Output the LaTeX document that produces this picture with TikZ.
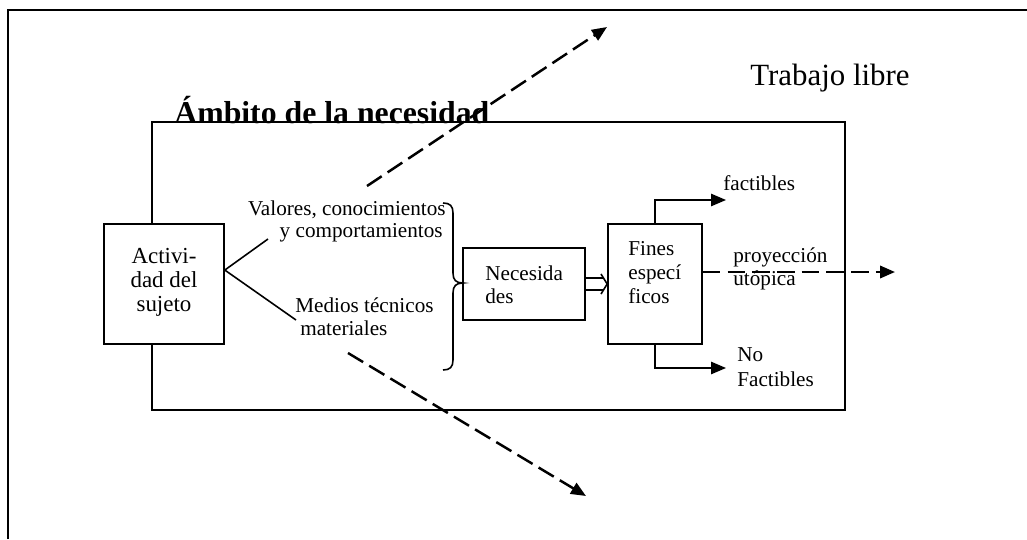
\documentclass[tikz,border=0pt]{standalone}
\usepackage{fontspec}
\setmainfont{Liberation Serif}
\usetikzlibrary{arrows.meta}
\begin{document}
\begin{tikzpicture}[x=0.5666pt,y=-0.5666pt,
  box/.style={draw, fill=white, line width=0.9pt, inner sep=0pt},
  txt/.style={inner sep=0pt, font=\fontsize{12pt}{14pt}\selectfont},
  lbl/.style={txt, anchor=base west},
  acttxt/.style={inner sep=0pt, anchor=base, font=\fontsize{13pt}{15pt}\selectfont},
  solidarrow/.style={line width=0.9pt, -{Triangle[length=8.5pt,width=7pt]}},
  dasharrow/.style={line width=1.4pt, dash pattern=on 10pt off 4pt, -{Triangle[length=8.5pt,width=7pt]}},
  thin/.style={line width=0.9pt}
]
\useasboundingbox (0,0) rectangle (1027,539);
% outer frame
\draw[thin] (8,539) -- (8,10) -- (1027,10);
% big box
\draw[thin] (152,122) rectangle (845,410);
\node[lbl, font=\fontsize{18pt}{20pt}\selectfont\bfseries] (ambito) at (174,123) {Ámbito de la necesidad};
\node[lbl, font=\fontsize{17.5pt}{20pt}\selectfont] (trabajo) at (750,85) {Trabajo libre};

% boxes
\node[box, minimum width=68pt, minimum height=68pt] (act) at (164,284) {};
\node[acttxt] (act1) at (164,263) {Activi-};
\node[acttxt] (act2) at (164,287) {dad del};
\node[acttxt] (act3) at (164,311) {sujeto};

\node[box, minimum width=69.1pt, minimum height=40.8pt] (nec) at (524,284) {};
\node[lbl] (nec1) at (485,280) {Necesida};
\node[lbl] (nec2) at (485,303) {des};

\node[box, minimum width=53.3pt, minimum height=68pt] (fin) at (655,284) {};
\node[lbl] (fin1) at (628,255) {Fines};
\node[lbl] (fin2) at (628,279) {especí};
\node[lbl] (fin3) at (628,303) {ficos};

% labels
\node[txt, anchor=base east] (val1) at (446,215) {Valores, conocimientos};
\node[txt, anchor=base east] (val2) at (443,237) {y comportamientos};
\node[lbl] (med1) at (295,312) {Medios técnicos};
\node[lbl] (med2) at (300,335) {materiales};
\node[lbl] (fact) at (723,190) {factibles};
\node[lbl] (proy1) at (733,262) {proyección};
\node[lbl] (proy2) at (733,285) {utópica};
\node[lbl] (nof1) at (737,361) {No};
\node[lbl] (nof2) at (737,386) {Factibles};

% lines from actividad
\coordinate (vc) at (268,239);
\coordinate (mt) at (296,320);
\draw[thin] ([yshift=7.9pt]act.east) -- (vc);
\draw[thin] ([yshift=7.9pt]act.east) -- (mt);

% brace
\draw[thin] (443,203) .. controls (450,203) and (453,206) .. (453,213) -- (453,273)
  .. controls (453,280) and (456,283) .. (463,283)
  .. controls (456,283) and (453,286) .. (453,293) -- (453,360)
  .. controls (453,367) and (450,370) .. (443,370);

% double arrow (open)
\coordinate (da1) at (603,278);
\coordinate (da2) at (603,290);
\coordinate (dt1) at (601,274);
\coordinate (dt2) at (601,294);
\draw[thin] ([yshift=3.4pt]nec.east) -- (da1);
\draw[thin] ([yshift=-3.4pt]nec.east) -- (da2);
\draw[thin, line join=miter] (dt1) -- (fin.west) -- (dt2);

% fines arrows
\coordinate (fa) at (726,200);
\coordinate (nf) at (726,368);
\coordinate (pu) at (895,272);
\draw[solidarrow] (fin.north) |- (fa);
\draw[solidarrow] (fin.south) |- (nf);
\draw[dasharrow] (fin.east |- pu) -- (pu);

% big dashed arrows
\coordinate (u1) at (367,186);
\coordinate (u2) at (607,27);
\coordinate (l1) at (348,353);
\coordinate (l2) at (586,496);
\draw[dasharrow] (u1) -- (u2);
\draw[dasharrow] (l1) -- (l2);
\end{tikzpicture}
\end{document}
